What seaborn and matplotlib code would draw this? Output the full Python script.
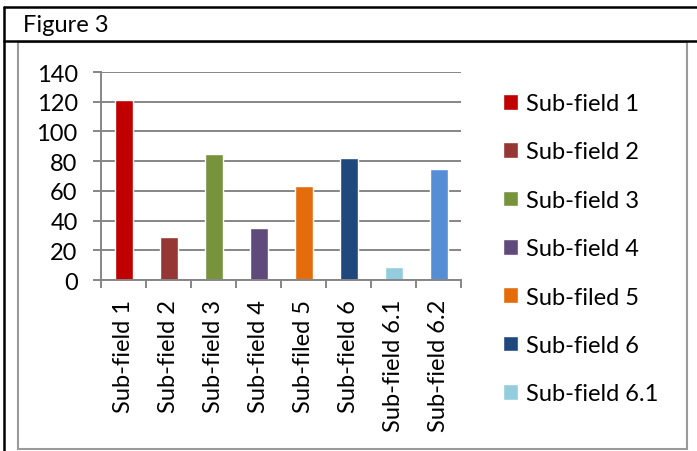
import numpy as np
import matplotlib
matplotlib.use("Agg")
import matplotlib.pyplot as plt
import seaborn as sns
from matplotlib.lines import Line2D
from matplotlib.patches import Rectangle

# data
categories = ["Sub-field 1", "Sub-field 2", "Sub-field 3", "Sub-field 4",
              "Sub-filed 5", "Sub-field 6", "Sub-field 6.1", "Sub-field 6.2"]
values = [121, 29, 85, 35, 63, 82, 9, 75]
colors = ["#C00000", "#953735", "#77933C", "#604A7B",
          "#E46C0A", "#1F497D", "#93CDDD", "#558ED5"]
y_ticks = [0, 20, 40, 60, 80, 100, 120, 140]
legend_count = 7  # the last entry is cut off in the original legend

W, H = 697, 452
GRID = "#868686"
FS = 17

sns.set_theme(style="white")
plt.rcParams["font.family"] = ["Lato", "DejaVu Sans"]
plt.rcParams["text.color"] = "black"

fig = plt.figure(figsize=(W / 100, H / 100), dpi=100)
ax = fig.add_axes([101 / W, 1 - 281 / H, 360 / W, 208 / H])

sns.barplot(x=categories, y=values, hue=categories, palette=colors,
            width=0.4, saturation=1, ax=ax, legend=True)

handles, labels = ax.get_legend_handles_labels()
ax.get_legend().remove()

# axes styling (Excel look)
ax.set_xlim(-0.5, len(categories) - 0.5)
ax.set_ylim(0, 140)
ax.set_yticks(y_ticks)
ax.set_axisbelow(True)
ax.yaxis.grid(True, color=GRID, linewidth=1.4)
ax.xaxis.grid(False)
for side in ["top", "right"]:
    ax.spines[side].set_visible(False)
for side in ["left", "bottom"]:
    ax.spines[side].set_color(GRID)
    ax.spines[side].set_linewidth(1.4)

ax.tick_params(axis="y", length=5.8, width=1.4, color=GRID, pad=11,
               labelsize=FS, labelcolor="black", left=True)

ax.set_xticks(np.arange(-0.5, len(categories), 1))
ax.set_xticklabels([])
ax.set_xticks(np.arange(len(categories)), minor=True)
ax.set_xticklabels(categories, minor=True, rotation=90)
ax.tick_params(axis="x", which="major", length=5.8, width=1.4, color=GRID,
               bottom=True)
ax.tick_params(axis="x", which="minor", length=0, pad=13.5,
               labelsize=FS, labelcolor="black", bottom=True)
ax.set_xlabel("")
ax.set_ylabel("")

# legend on the right
fig.legend(handles[:legend_count], labels[:legend_count],
           loc="upper left", bbox_to_anchor=(503 / W, 1 - 94 / H),
           frameon=False, fontsize=FS, borderpad=0, borderaxespad=0,
           handlelength=0.64, handleheight=0.64, handletextpad=0.33,
           labelspacing=1.16)

# frame around the figure
lw_b = 1.8
fig.add_artist(Line2D([4 / W, 4 / W], [0, 1 - 8 / H], color="black",
                      lw=lw_b, transform=fig.transFigure))
fig.add_artist(Line2D([4 / W, 1], [1 - 8 / H, 1 - 8 / H], color="black",
                      lw=lw_b, transform=fig.transFigure))
fig.add_artist(Line2D([4 / W, 1], [1 - 42 / H, 1 - 42 / H], color="black",
                      lw=lw_b, transform=fig.transFigure))
fig.add_artist(Rectangle((18 / W, 1 - 450 / H), (687 - 18) / W, (450 - 43) / H,
                         fill=False, ec="#9a9a9a", lw=1.5,
                         transform=fig.transFigure))
fig.text(23 / W, 1 - 26 / H, "Figure 3", va="center", ha="left", fontsize=FS)

fig.savefig("out.png", dpi=100)
